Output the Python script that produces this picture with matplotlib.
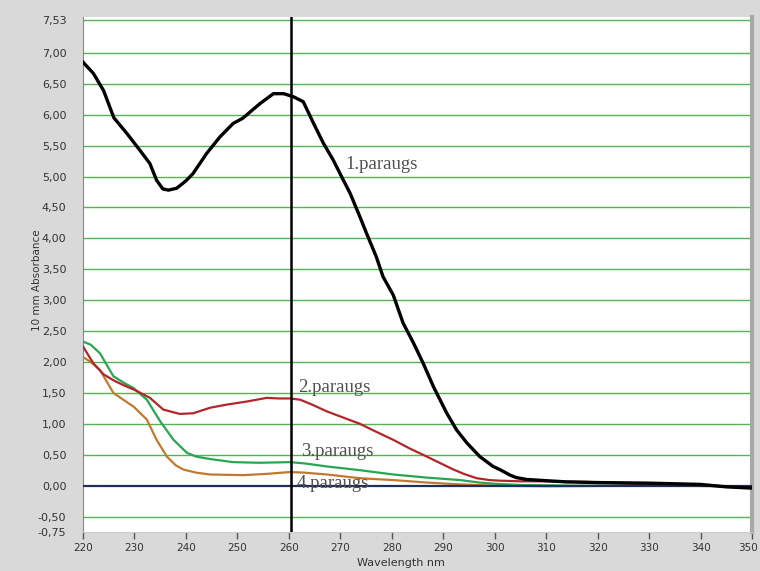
import matplotlib
matplotlib.use("Agg")
import matplotlib.pyplot as plt
import matplotlib.transforms as mtransforms

# 1.paraugs (black)
wl1 = [220, 222, 224, 226, 228.5, 231, 233, 234.3, 235.5, 236.6, 238.2, 240, 241.4, 244, 246.6,
       249.2, 251, 254.4, 257, 259, 260.9, 262.8, 264.8, 266.7, 268.6, 270.6, 271.9, 273.8, 275.1,
       277, 278.3, 280.3, 282.2, 284.2, 286.1, 288.1, 290.7, 292.6, 294.6, 297.1, 299.7, 301, 303,
       304.2, 306.2, 310, 314, 320, 330, 340, 345, 350]
abs1 = [6.85, 6.67, 6.39, 5.95, 5.70, 5.43, 5.21, 4.94, 4.80, 4.78, 4.81, 4.93, 5.05, 5.37, 5.64,
        5.86, 5.94, 6.18, 6.34, 6.34, 6.29, 6.21, 5.86, 5.54, 5.27, 4.94, 4.73, 4.35, 4.08,
        3.70, 3.38, 3.08, 2.63, 2.31, 1.98, 1.60, 1.17, 0.90, 0.69, 0.47, 0.31, 0.26, 0.17,
        0.13, 0.10, 0.08, 0.06, 0.05, 0.04, 0.02, -0.02, -0.04]

# 2.paraugs (red)
wl2 = [220, 222, 224, 226, 228, 230, 233, 235.6, 238.8, 241.4, 244.7, 247.9, 251.8, 255.7, 258,
       260.2, 262.2, 264.8, 267.4, 270.6, 273.8, 277, 280.3, 283.5, 286.8, 290, 292, 294, 296.5,
       299, 301, 305, 310, 318, 330, 340, 350]
abs2 = [2.25, 1.98, 1.80, 1.70, 1.62, 1.55, 1.42, 1.23, 1.16, 1.17, 1.26, 1.31, 1.36, 1.42, 1.41,
        1.41, 1.39, 1.30, 1.20, 1.10, 1.00, 0.87, 0.74, 0.60, 0.47, 0.34, 0.26, 0.19, 0.12,
        0.09, 0.08, 0.07, 0.07, 0.06, 0.02, 0.0, -0.02]

# 3.paraugs (green)
wl3 = [220, 221.5, 223.3, 225.9, 228, 229.8, 232.4, 235, 237.6, 240.2, 242, 244.7, 249.2, 254.4,
       260.2, 263, 267.4, 273.8, 280.3, 286.8, 293.3, 297, 300, 305, 315, 330, 350]
abs3 = [2.33, 2.28, 2.14, 1.77, 1.66, 1.58, 1.39, 1.04, 0.74, 0.53, 0.47, 0.43, 0.38, 0.37,
        0.38, 0.36, 0.31, 0.25, 0.18, 0.13, 0.09, 0.05, 0.03, 0.01, 0.0, 0.0, -0.01]

# 4.paraugs (orange)
wl4 = [220, 221.5, 223.3, 225.9, 228, 229.8, 232.4, 234.3, 236.3, 238, 239.5, 242, 244.7, 251.2,
       255.7, 260.2, 263, 267.4, 273.8, 280.3, 286.8, 293.3, 300, 310, 330, 350]
abs4 = [2.08, 2.00, 1.87, 1.50, 1.38, 1.28, 1.07, 0.74, 0.47, 0.33, 0.26, 0.21, 0.18, 0.17,
        0.19, 0.22, 0.21, 0.18, 0.12, 0.09, 0.05, 0.02, 0.0, -0.01, 0.0, -0.01]

labels = ["1.paraugs", "2.paraugs", "3.paraugs", "4.paraugs"]
label_pos = [(270.9, 5.20), (261.8, 1.58), (262.4, 0.56), (261.6, 0.04)]

xticks = list(range(220, 351, 10))
yticks = [-0.75, -0.5, 0.0, 0.5, 1.0, 1.5, 2.0, 2.5, 3.0, 3.5, 4.0, 4.5, 5.0, 5.5, 6.0,
          6.5, 7.0, 7.53]
marker_wl = 260.4

fig = plt.figure(figsize=(7.6, 5.71), dpi=100, facecolor="#d9d9d9")
ax = fig.add_axes([0.1092, 0.0683, 0.8803, 0.9019])
ax.set_facecolor("white")

for y in yticks:
    if y in (-0.75, 0.0):
        continue
    ax.axhline(y, color="#e2f5e2", lw=2.4, zorder=1)
    ax.axhline(y, color="#58b058", lw=0.8, zorder=1)

ax.plot(wl4, abs4, color="#c07a30", lw=1.6, zorder=3)
ax.plot(wl3, abs3, color="#2aa552", lw=1.6, zorder=3)
ax.plot(wl2, abs2, color="#b2262a", lw=1.6, zorder=3)
ax.axhline(0, color="#1f2f55", lw=1.6, zorder=4)
ax.plot(wl1, abs1, color="black", lw=2.4, zorder=5)
ax.axvline(marker_wl, color="black", lw=1.8, zorder=6)

for txt, (x, y) in zip(labels, label_pos):
    ax.text(x, y, txt, family="Liberation Serif", fontsize=13.5, color="#505050",
            ha="left", va="center", zorder=7)

ax.set_xlim(220, 350)
ax.set_ylim(-0.75, 7.58)
ax.set_xticks(xticks)
ax.set_yticks(yticks)
ax.set_yticklabels([f"{v:.2f}".replace(".", ",") for v in yticks])
ax.tick_params(axis="y", length=0, pad=12, labelsize=8, labelcolor="#333333")
ax.tick_params(axis="x", length=5, width=1, color="#555555", pad=3, labelsize=7.5,
               labelcolor="#333333")

# keep the last x label inside the figure
last = ax.get_xticklabels()[-1]
last.set_transform(last.get_transform() +
                   mtransforms.ScaledTranslation(-3 / 72, 0, fig.dpi_scale_trans))

ax.spines["top"].set_visible(False)
ax.spines["left"].set_color("#888888")
ax.spines["bottom"].set_color("#cccccc")
ax.spines["right"].set_color("#a8a8a8")
ax.spines["right"].set_linewidth(3)

fig.text(0.0487, 0.51, "10 mm Absorbance", rotation=90, fontsize=7.5, color="#333333",
         ha="center", va="center")
fig.text(0.527, 0.014, "Wavelength nm", fontsize=8, color="#333333", ha="center",
         va="center")

fig.savefig("out.png", dpi=100, facecolor=fig.get_facecolor())
